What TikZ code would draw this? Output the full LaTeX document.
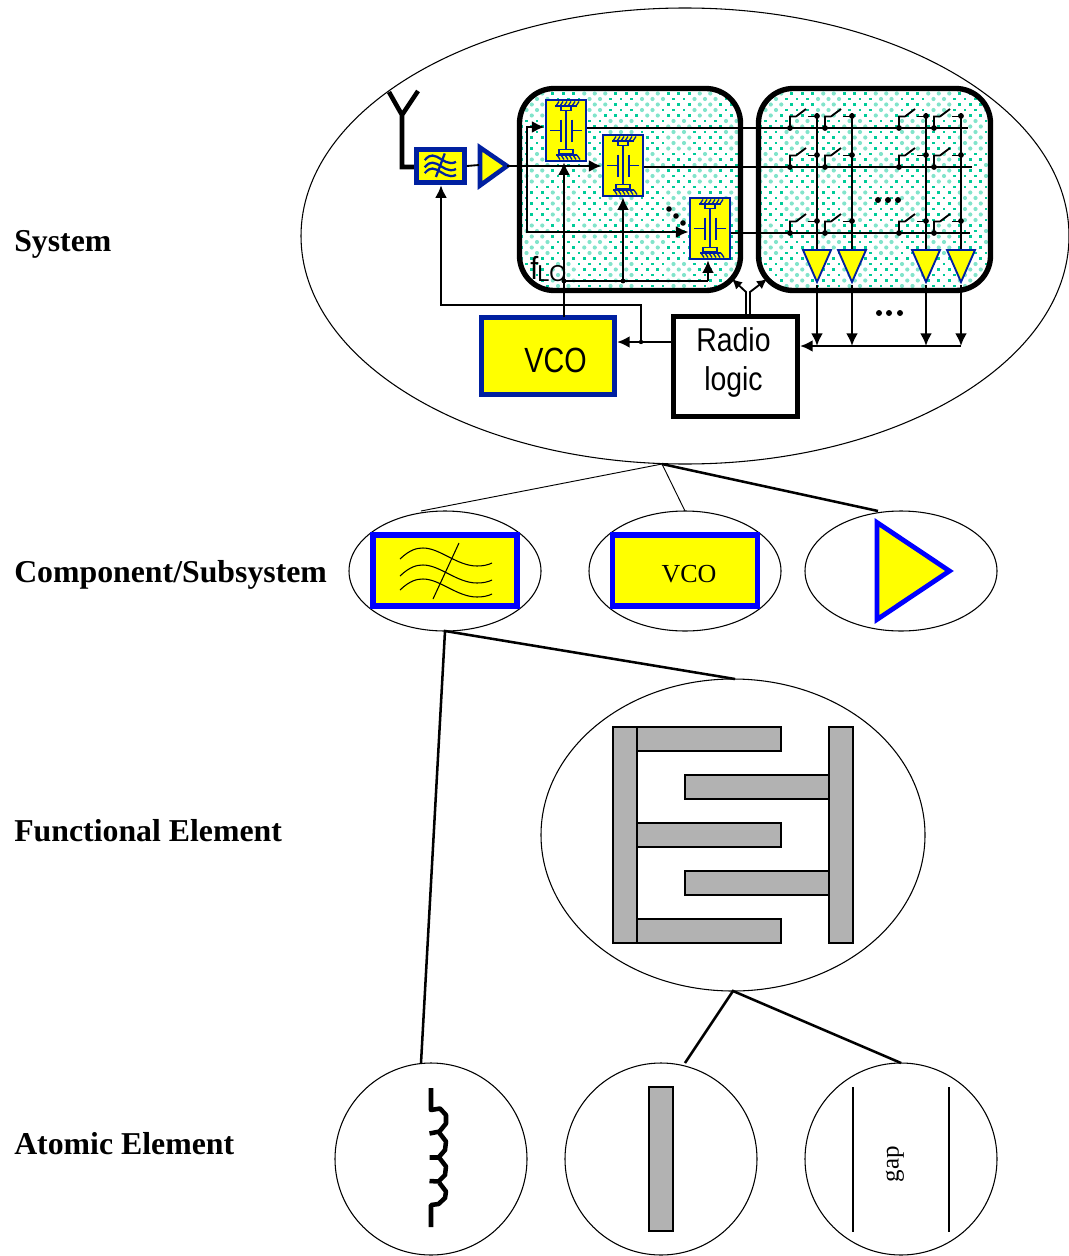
\documentclass[tikz,border=0pt]{standalone}
\usepackage{fontspec}
\usepackage{graphicx}
\setmainfont{Liberation Serif}
\setsansfont{Liberation Sans}
\usetikzlibrary{shapes.geometric,arrows.meta,calc}
\def\u{0.75pt}
\definecolor{dkblue}{RGB}{0,32,160}
\definecolor{teal1}{RGB}{0,204,153}
\definecolor{teal2}{RGB}{130,228,203}
\definecolor{grayb}{RGB}{178,178,178}
\definecolor{yel}{RGB}{255,255,0}
\newcommand{\fpx}[1]{\pgfmathsetmacro{\fsz}{#1*0.75}\fontsize{\fsz pt}{\fsz pt}\selectfont}
\newcommand{\dotfield}[3]{%
  \foreach \rw in {0,...,38}{\foreach \cl in {0,...,23}{%
    \pgfmathsetmacro{\dx}{#1+\cl*10.5+mod(\rw,2)*5.25}%
    \pgfmathsetmacro{\dy}{#2+\rw*5.5}%
    \pgfmathsetmacro{\blr}{cos((\dx-#3)/57*360)*cos((\dy-100)/70*360)}%
    \ifdim\blr pt>0.1pt
      \fill[teal2] (\dx,\dy) circle (2.1*\u);
    \else
      \fill[teal1] (\dx-1.4,\dy-1.4) rectangle (\dx+1.4,\dy+1.4);
    \fi
  }}}
\tikzset{
  x=0.75pt,y=-0.75pt,
  thinell/.style={draw=black,line width=0.8pt,ellipse,inner sep=0pt},
  labeltxt/.style={anchor=base west,inner sep=0pt,font=\fpx{31.8}\bfseries},
  sig/.style={draw=black,line width=2pt},
  sigthin/.style={draw=black,line width=1.4pt},
  arr/.style={-{Latex[length=9.5pt,width=9pt]}},
  jdot/.style={circle,fill=black,inner sep=0pt,minimum size=4.2pt},
  link/.style={draw=black,line width=0.7pt},
  linkb/.style={draw=black,line width=1.9pt},
  block/.style={draw=black,line width=4pt,rounded corners=26pt,rectangle,inner sep=0pt},
  capbox/.style={draw=dkblue,fill=yel,line width=1.6pt,rectangle,inner sep=0pt,minimum width=30.5pt,minimum height=46pt},
  fbar/.style={draw=black,fill=grayb,line width=1pt},
  pics/capac/.style={code={
    \begin{scope}[draw=dkblue,line width=0.95pt]
      \draw (0,-20)--(0,-11) (0,-11)--(0,19);
      \draw (-16,0)--(-5,0) (-5,-11)--(-5,11);
      \draw (16,0)--(6,0) (6,-11)--(6,11);
      \draw (-5,-24) rectangle (5,-20);
      \draw (-7,19) rectangle (7,23);
      \draw (-11,-24.5)--(11,-24.5);
      \draw (-10,24.5)--(11,24.5);
      \foreach \k in {-10,-6,-2,2,6,10}{
        \draw (\k,-24.5)--(\k+3,-29);
        \draw (\k+1,24.5)--(\k+4,29);
      }
    \end{scope}}},
  pics/swtch/.style={code={
    \draw[sigthin] (-27,0)--(-27,-11.5)--(-21,-11.5) (-21,-11.5)--(-11,-19);
    \draw[sigthin] (-9,-11.5)--(0,-11.5);
    \fill (-27,0) circle (2.9*\u);
    \fill (0,-12) circle (2.9*\u);
  }},
  pics/wave/.style={code={
    \foreach \o in {0,17,31}{
      \draw (-45,-11.5+\o) .. controls (-35,-21+\o) and (-28,-22.5+\o) .. (-22,-22.5+\o) .. controls (-5,-22.5+\o) and (12,-4.5+\o) .. (32,-4.5+\o) .. controls (38,-4.5+\o) and (43,-5.5+\o) .. (47,-7.5+\o);
    }
    \draw (14,-27.5) -- (-12,28.5);
  }}
}
\begin{document}
\begin{tikzpicture}
\useasboundingbox (0,0) rectangle (1069,1256);
% ---- system
\node[thinell,minimum width=768*\u,minimum height=456*\u] (sys) at (685,236) {};
% dot fields
\begin{scope}
  \clip[rounded corners=26pt] (519,88) rectangle (741,291);
  \dotfield{516}{88}{650}
\end{scope}
\begin{scope}
  \clip[rounded corners=26pt] (758,88) rectangle (991,291);
  \dotfield{755}{88}{770}
\end{scope}
\node[block,minimum width=221*\u,minimum height=202*\u] (blockA) at (630,189.5) {};
\node[block,minimum width=232*\u,minimum height=202*\u] (blockB) at (874.5,189.5) {};
% antenna
\coordinate (antL) at (389,92);
\coordinate (antR) at (418,91);
\coordinate (antJ) at (402,115);
\coordinate (antB) at (402,167);
\draw[draw=black,line width=3.4pt,miter limit=10] (antL)--(antJ)--(antR) (antJ)--(antB)--(416,167);
% filter, amp
\node[draw=dkblue,fill=yel,line width=3.6pt,rectangle,inner sep=0pt,minimum width=48*\u,minimum height=33.5*\u] (filt) at (440.5,166) {};
\begin{scope}[shift={(440,165)},xscale=0.34,yscale=0.42,draw=dkblue,line width=1.7pt]
  \pic[transform shape] {wave};
\end{scope}
\coordinate (ampT) at (480,147.5);
\coordinate (ampB) at (480,185.5);
\coordinate (ampTip) at (507,166);
\draw[draw=dkblue,fill=yel,line width=3.4pt,line join=miter] (ampT)--(ampTip)--(ampB)--cycle;
\draw[sigthin] (filt.east)--(479,165);
% capacitors
\node[capbox] (c1) at (566,130.5) {};
\node[capbox] (c2) at (623,165.5) {};
\node[capbox] (c3) at (710,228.5) {};
\pic at (566,130.5) {capac};
\pic at (623,165.5) {capac};
\pic at (710,228.5) {capac};
% input distribution
\coordinate (bT) at (527,127);
\coordinate (bB) at (527,232);
\coordinate (bM) at (527,166);
\draw[sig,arr] (ampTip)--(c2.west|-ampTip);
\draw[sig,arr] (bB)--(bT)--(c1.west|-bT);
\draw[sig,arr] (bT)--(bB)--(c3.west|-bB);
% LO network
\coordinate (loA) at (564,281);
\coordinate (loB) at (623,281);
\coordinate (loC) at (708,281);
\coordinate (vcoTop) at (564,317);
% vco, radio
\node[draw=dkblue,fill=yel,line width=3.8pt,rectangle,inner sep=0pt,minimum width=133*\u,minimum height=77*\u] (vco) at (548,356) {};
\node[inner sep=0pt,font=\sffamily\fpx{35}] (vcot) at (555.5,360) {\scalebox{.82}[1]{VCO}};
\node[draw=black,fill=white,line width=3.8pt,rectangle,inner sep=0pt,minimum width=124*\u,minimum height=100*\u] (radio) at (735.5,366.5) {};
\node[inner sep=0pt,font=\sffamily\fpx{33}] (rt1) at (733.5,340) {\scalebox{.86}[1]{Radio}};
\node[inner sep=0pt,font=\sffamily\fpx{33}] (rt2) at (733.5,382) {\scalebox{.86}[1]{logic}};
\draw[sig,arr] (vcoTop)--(c1.south-|vcoTop);
\draw[sigthin] (loA)--(loC);
\draw[sig,arr] (loB)--(c2.south);
\draw[sig,arr] (loC)--(c3.south-|loC);
\node[jdot,minimum size=3.6pt] (ja) at (loA) {};
\node[jdot,minimum size=3.6pt] (jb) at (loB) {};
\node[inner sep=0pt,anchor=base west,font=\sffamily\fpx{32}] (flo) at (530,279) {\scalebox{.9}[1]{f}};
\node[inner sep=0pt,anchor=base west,font=\sffamily\fpx{23}] (lolab) at (537,281) {\scalebox{.95}[1]{LO}};
\node[jdot] (d1) at (669,209) {};
\node[jdot] (d2) at (676,216) {};
\node[jdot] (d3) at (683,223) {};
% control
\coordinate (rlw) at (672,342);
\coordinate (ctj) at (641,342);
\coordinate (ct1) at (641,305);
\coordinate (ct2) at (441,305);
\draw[sig,arr] (rlw)--(vco.east|-rlw);
\draw[sig,arr] (ctj)--(ct1)--(ct2)--(filt.south-|ct2);
\fill (ctj) circle (2.2*\u);
\coordinate (ra1) at (746,314);
\coordinate (ra2) at (746,292);
\coordinate (ra3) at (732,279);
\coordinate (rb1) at (750,314);
\coordinate (rb2) at (750,292);
\coordinate (rb3) at (767,279);
\draw[sigthin,-{Latex[length=7.5pt,width=7.5pt]}] (ra1)--(ra2)--(ra3);
\draw[sigthin,-{Latex[length=7.5pt,width=7.5pt]}] (rb1)--(rb2)--(rb3);
% rows
\draw[sigthin] (c1.east|-0,128)--(968,128);
\draw[sigthin] (c2.east|-0,167)--(972,167);
\draw[sigthin] (c3.east|-0,233)--(970,233);
% columns
\foreach \cx/\nm in {817/a,852/b,926/c,961/d}{
  \draw[sigthin] (\cx,113)--(\cx,252);
  \foreach \ry in {128,167,233}{
    \pic at (\cx,\ry) {swtch};
  }
  \coordinate (t1\nm) at (\cx-14,250);
  \coordinate (t2\nm) at (\cx+14,250);
  \coordinate (t3\nm) at (\cx,282);
  \draw[draw=dkblue,fill=yel,line width=1.4pt,line join=miter] (t1\nm)--(t2\nm)--(t3\nm)--cycle;
  \coordinate (o\nm) at (\cx,285);
  \coordinate (bus\nm) at (\cx,346);
  \draw[sig,arr] (o\nm)--(bus\nm);
}
\coordinate (busd) at (961,346);
\draw[sig,arr] (busd)--(radio.east|-busd);
\foreach \dxx in {878,888,898}{\fill (\dxx,200) circle (3*\u);}
\foreach \dxx in {879,889,900}{\fill (\dxx,313) circle (3*\u);}
% ---- component level
\node[thinell,minimum width=192*\u,minimum height=120*\u] (efilt) at (445,571) {};
\node[thinell,minimum width=192*\u,minimum height=120*\u] (evco) at (685,571) {};
\node[thinell,minimum width=192*\u,minimum height=120*\u] (eamp) at (901,571) {};
\node[draw=blue,fill=yel,line width=4.2pt,rectangle,inner sep=0pt,minimum width=144*\u,minimum height=71*\u] (bfilt) at (445,570.5) {};
\begin{scope}[shift={(445,570.5)},draw=black,line width=0.8pt]
  \pic {wave};
\end{scope}
\node[draw=blue,fill=yel,line width=3.8pt,rectangle,inner sep=0pt,minimum width=145*\u,minimum height=71*\u] (bvco) at (685,570.5) {};
\node[inner sep=0pt,font=\fpx{26}] (tvco) at (689,574) {VCO};
\coordinate (bigT) at (877,522.5);
\coordinate (bigB) at (877,619.5);
\coordinate (bigR) at (949.5,571);
\draw[draw=blue,fill=yel,line width=3.6pt,line join=miter] (bigT)--(bigR)--(bigB)--cycle;
% links
\coordinate (sb) at (662,464);
\coordinate (e1) at (421,511);
\coordinate (e2) at (685,511);
\coordinate (e3) at (878,511);
\draw[link] (e1)--(sb)--(e2);
\draw[linkb] (sb)--(e3);
\coordinate (fb) at (445,631);
\coordinate (ind) at (421,1063);
\coordinate (fe) at (735,679);
\draw[linkb] (ind)--(fb)--(fe);
% ---- functional element
\node[thinell,minimum width=384*\u,minimum height=312*\u] (efun) at (733,835) {};
\foreach \fy in {727,823,919}{\draw[fbar] (637,\fy) rectangle (781,\fy+24);}
\foreach \fy in {775,871}{\draw[fbar] (685,\fy) rectangle (829,\fy+24);}
\draw[fbar] (613,727) rectangle (637,943);
\draw[fbar] (829,727) rectangle (853,943);
\coordinate (fnb) at (733,991);
\coordinate (ab) at (685,1063);
\coordinate (ag) at (901,1063);
\draw[linkb] (ab)--(fnb)--(ag);
% ---- atomic
\node[thinell,circle,minimum size=192*\u] (a1) at (431,1159) {};
\node[thinell,circle,minimum size=192*\u] (a2) at (661,1159) {};
\node[thinell,circle,minimum size=192*\u] (a3) at (901,1159) {};
\begin{scope}[draw=black,line width=3.4pt,line join=round]
  \draw (431,1088)--(431,1110)--(440,1108.5)--(446,1115)--(446,1123.5)--(439.5,1131.5)--(429.5,1133.5);
  \draw (439.5,1133)--(446,1141.5)--(445,1150)--(438.5,1157.5)--(429.5,1157.5);
  \draw (439.5,1158)--(446,1166.5)--(445,1175)--(438.5,1181.5)--(429.5,1181);
  \draw (439.5,1183)--(446,1191.5)--(445,1198)--(438.5,1204)--(431,1205)--(431,1227);
\end{scope}
\draw[fbar] (649,1087) rectangle (673,1231);
\draw[draw=black,line width=1pt] (853,1087)--(853,1232) (949,1087)--(949,1232);
\node[inner sep=0pt,rotate=90,font=\fpx{25}] (gap) at (895,1164) {gap};
% ---- labels
\node[labeltxt] (l1) at (14,251) {System};
\node[labeltxt] (l2) at (14,582) {Component/Subsystem};
\node[labeltxt] (l3) at (14,841) {Functional Element};
\node[labeltxt] (l4) at (14,1154) {Atomic Element};
\end{tikzpicture}
\end{document}
